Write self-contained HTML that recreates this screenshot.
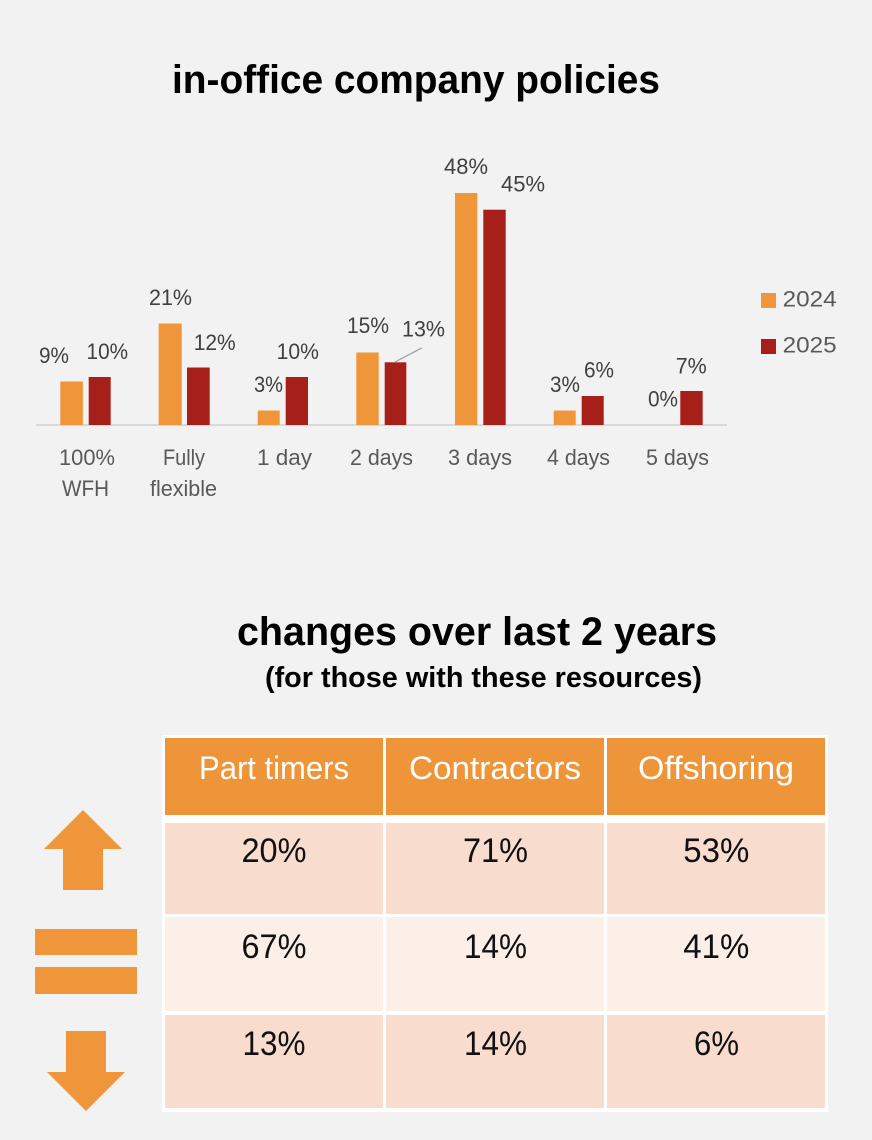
<!DOCTYPE html>
<html><head><meta charset="utf-8"><style>
html,body{margin:0;padding:0;background:#F2F2F2;}
svg{display:block;}
text{font-family:"Liberation Sans",sans-serif;}
</style></head><body>
<svg width="872" height="1140" viewBox="0 0 872 1140" xmlns="http://www.w3.org/2000/svg">
<rect width="872" height="1140" fill="#F2F2F2"/>
<!-- Title -->
<text x="172" y="93" font-size="40" font-weight="bold" fill="#000" textLength="488" lengthAdjust="spacingAndGlyphs">in-office company policies</text>

<!-- axis -->
<line x1="36" y1="425" x2="727" y2="425" stroke="#D9D9D9" stroke-width="2"/>

<!-- bars 2024 -->
<g fill="#F0963A">
<rect x="60.3" y="381.5" width="22.6" height="43.5"/>
<rect x="158.7" y="323.5" width="23" height="101.5"/>
<rect x="257.7" y="410.5" width="22" height="14.5"/>
<rect x="356.3" y="352.5" width="22.4" height="72.5"/>
<rect x="455" y="193" width="22.3" height="232"/>
<rect x="553.7" y="410.5" width="22" height="14.5"/>
</g>
<!-- bars 2025 -->
<g fill="#A62019">
<rect x="88.7" y="377" width="22" height="48"/>
<rect x="187" y="367.5" width="22.7" height="57.5"/>
<rect x="285.7" y="377" width="22.3" height="48"/>
<rect x="384.7" y="362.3" width="21.6" height="62.7"/>
<rect x="483.3" y="209.7" width="22.4" height="215.3"/>
<rect x="581.7" y="396" width="22" height="29"/>
<rect x="680.3" y="391" width="22.4" height="34"/>
</g>

<!-- leader line -->
<line x1="395" y1="362" x2="421.7" y2="348" stroke="#A6A6A6" stroke-width="1.3"/>

<!-- data labels -->
<g font-size="22" fill="#404040" text-anchor="middle" lengthAdjust="spacingAndGlyphs">
<text x="54" y="363" textLength="30" lengthAdjust="spacingAndGlyphs">9%</text>
<text x="107.3" y="359" textLength="41.5" lengthAdjust="spacingAndGlyphs">10%</text>
<text x="170.5" y="305" textLength="43" lengthAdjust="spacingAndGlyphs">21%</text>
<text x="214.7" y="350" textLength="42" lengthAdjust="spacingAndGlyphs">12%</text>
<text x="268.5" y="392" textLength="29" lengthAdjust="spacingAndGlyphs">3%</text>
<text x="297.8" y="359" textLength="42.3" lengthAdjust="spacingAndGlyphs">10%</text>
<text x="368" y="333" textLength="42" lengthAdjust="spacingAndGlyphs">15%</text>
<text x="423.5" y="336.7" textLength="43" lengthAdjust="spacingAndGlyphs">13%</text>
<text x="466" y="174" textLength="44" lengthAdjust="spacingAndGlyphs">48%</text>
<text x="523" y="191.7" textLength="44" lengthAdjust="spacingAndGlyphs">45%</text>
<text x="565" y="392" textLength="30" lengthAdjust="spacingAndGlyphs">3%</text>
<text x="599" y="377.7" textLength="30" lengthAdjust="spacingAndGlyphs">6%</text>
<text x="663" y="406.7" textLength="30" lengthAdjust="spacingAndGlyphs">0%</text>
<text x="691.2" y="373.3" textLength="31" lengthAdjust="spacingAndGlyphs">7%</text>
</g>

<!-- category labels -->
<g font-size="22" fill="#595959" text-anchor="middle">
<text x="87" y="465" textLength="56" lengthAdjust="spacingAndGlyphs">100%</text>
<text x="85.5" y="496" textLength="47" lengthAdjust="spacingAndGlyphs">WFH</text>
<text x="184" y="465" textLength="42" lengthAdjust="spacingAndGlyphs">Fully</text>
<text x="183.5" y="496" textLength="67" lengthAdjust="spacingAndGlyphs">flexible</text>
<text x="284.5" y="465" textLength="55" lengthAdjust="spacingAndGlyphs">1 day</text>
<text x="381.5" y="465" textLength="63" lengthAdjust="spacingAndGlyphs">2 days</text>
<text x="480" y="465" textLength="64" lengthAdjust="spacingAndGlyphs">3 days</text>
<text x="578.5" y="465" textLength="63" lengthAdjust="spacingAndGlyphs">4 days</text>
<text x="677.5" y="465" textLength="63" lengthAdjust="spacingAndGlyphs">5 days</text>
</g>

<!-- legend -->
<rect x="761" y="293" width="15" height="15" fill="#F0963A"/>
<rect x="761" y="339" width="15" height="15" fill="#A62019"/>
<text x="782.7" y="306.7" font-size="22" fill="#595959" textLength="54" lengthAdjust="spacingAndGlyphs">2024</text>
<text x="782.7" y="352.3" font-size="22" fill="#595959" textLength="54" lengthAdjust="spacingAndGlyphs">2025</text>

<!-- second titles -->
<text x="237" y="645" font-size="40" font-weight="bold" fill="#000" textLength="480" lengthAdjust="spacingAndGlyphs">changes over last 2 years</text>
<text x="265" y="687" font-size="29" font-weight="bold" fill="#000" textLength="437" lengthAdjust="spacingAndGlyphs">(for those with these resources)</text>

<!-- arrows -->
<g fill="#F0963A">
<polygon points="83,810 122,849 103,849 103,890 63,890 63,849 44,849"/>
<rect x="35" y="929" width="102" height="26"/>
<rect x="35" y="967" width="102" height="27"/>
<polygon points="66,1031 106,1031 106,1072 125,1072 86,1111 47,1072 66,1072"/>
</g>

<!-- table -->
<rect x="162" y="735" width="666" height="377" fill="#FFFFFF"/>
<g fill="#EF9539">
<rect x="165" y="738" width="218" height="77"/>
<rect x="386" y="738" width="218" height="77"/>
<rect x="607" y="738" width="218" height="77"/>
</g>
<g fill="#F8DCCE">
<rect x="165" y="823" width="218" height="91"/>
<rect x="386" y="823" width="218" height="91"/>
<rect x="607" y="823" width="218" height="91"/>
<rect x="165" y="1015" width="218" height="93"/>
<rect x="386" y="1015" width="218" height="93"/>
<rect x="607" y="1015" width="218" height="93"/>
</g>
<g fill="#FBEFE8">
<rect x="165" y="917" width="218" height="94"/>
<rect x="386" y="917" width="218" height="94"/>
<rect x="607" y="917" width="218" height="94"/>
</g>

<g font-size="32" fill="#FFFFFF">
<text x="199" y="779" textLength="150" lengthAdjust="spacingAndGlyphs">Part timers</text>
<text x="409" y="779" textLength="172" lengthAdjust="spacingAndGlyphs">Contractors</text>
<text x="638" y="779" textLength="156" lengthAdjust="spacingAndGlyphs">Offshoring</text>
</g>

<g font-size="34" fill="#111111" text-anchor="middle">
<text x="274" y="862" textLength="65" lengthAdjust="spacingAndGlyphs">20%</text>
<text x="495.5" y="862" textLength="65" lengthAdjust="spacingAndGlyphs">71%</text>
<text x="716.3" y="862" textLength="66" lengthAdjust="spacingAndGlyphs">53%</text>
<text x="274" y="958" textLength="65" lengthAdjust="spacingAndGlyphs">67%</text>
<text x="495.5" y="958" textLength="63" lengthAdjust="spacingAndGlyphs">14%</text>
<text x="716.3" y="958" textLength="66" lengthAdjust="spacingAndGlyphs">41%</text>
<text x="274" y="1055" textLength="63" lengthAdjust="spacingAndGlyphs">13%</text>
<text x="495.5" y="1055" textLength="63" lengthAdjust="spacingAndGlyphs">14%</text>
<text x="716.5" y="1055" textLength="45" lengthAdjust="spacingAndGlyphs">6%</text>
</g>
</svg>
</body></html>
